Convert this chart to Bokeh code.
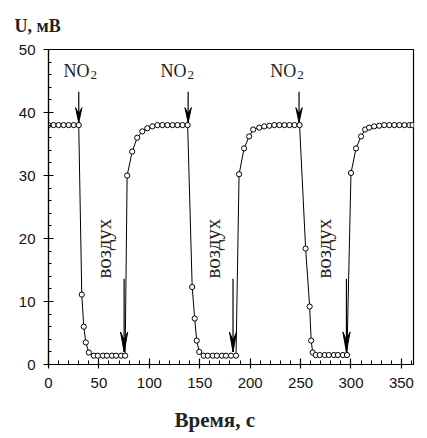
import math
from bokeh.plotting import figure
from bokeh.models import (Range1d, SingleIntervalTicker, FixedTicker, LinearAxis,
                          Title, ColumnDataSource)
from bokeh.core.properties import value
from bokeh.embed import file_html
from bokeh.resources import INLINE

# ---- data ----
cycle1_t = [0, 5, 10, 15, 20, 25, 30, 33, 35, 37, 40, 45, 49, 54, 58, 63, 67, 72, 76]
cycle1_u = [38, 38, 38, 38, 38, 38, 38, 11.1, 6.0, 3.5, 1.9, 1.4, 1.4, 1.4, 1.4, 1.4, 1.4, 1.4, 1.4]

cycle2_t = [78, 83, 88, 93, 98, 103, 108, 113, 118, 123, 128, 133, 138,
            142.5, 145, 147, 149.5, 154, 158, 163, 167, 172, 176, 181, 186]
cycle2_u = [30.0, 33.8, 36.0, 37.0, 37.5, 37.8, 38, 38, 38, 38, 38, 38, 38,
            12.3, 7.3, 3.8, 2.0, 1.4, 1.4, 1.4, 1.4, 1.4, 1.4, 1.4, 1.4]

cycle3_t = [189, 194, 199, 203, 209, 214, 219, 224, 229, 234, 239, 244, 249,
            255, 259, 260.5, 262, 265, 269, 274, 278, 283, 287, 292, 296]
cycle3_u = [30.2, 34.3, 36.2, 37.3, 37.6, 37.8, 37.9, 38, 38, 38, 38, 38, 38,
            18.4, 9.2, 3.8, 1.9, 1.5, 1.5, 1.5, 1.5, 1.5, 1.5, 1.5, 1.5]

cycle4_t = [300, 305, 310, 314, 318, 323, 328, 333, 338, 343, 348, 353, 358, 361]
cycle4_u = [30.4, 34.3, 36.2, 37.3, 37.6, 37.8, 37.9, 38, 38, 38, 38, 38, 38, 38]

# arrows: NO2 on (top), air on (bottom)
no2_t = [30, 138.5, 248.5]
no2_tip_u = 38.4
no2_tail_u = 43.3
air_t = [75, 183, 295.5]
air_tip_u = 2.0
air_tail_u = 13.6

# labels
no2_label_t = [15, 111, 220]
no2_label_u = 46.6
air_label_t = [55, 163, 273]
air_label_u = 18.4

x_ticks_interval = 50
y_ticks_interval = 10

time_s = cycle1_t + cycle2_t + cycle3_t + cycle4_t
voltage_mv = cycle1_u + cycle2_u + cycle3_u + cycle4_u

p = figure(width=427, height=438,
           x_range=Range1d(0, 362), y_range=Range1d(0, 50),
           output_backend="svg", toolbar_location=None,
           min_border_left=48, min_border_right=14,
           min_border_top=48, min_border_bottom=74)

p.background_fill_color = "white"
p.border_fill_color = "white"
p.grid.visible = False
p.outline_line_color = "black"
p.outline_line_width = 1.2
p.outline_line_alpha = 1

# title "U, мВ"
p.title.text = "U, мВ"
p.title.align = "left"
p.title.offset = -34
p.title.text_font = "Liberation Serif"
p.title.text_font_size = "18px"
p.title.text_font_style = "bold"
p.title.text_color = "#222222"
p.title.standoff = 27

# axes
p.xaxis.ticker = SingleIntervalTicker(interval=x_ticks_interval, num_minor_ticks=5)
p.yaxis.ticker = SingleIntervalTicker(interval=y_ticks_interval, num_minor_ticks=5)
for ax in (p.xaxis[0], p.yaxis[0]):
    ax.axis_line_color = "black"
    ax.axis_line_width = 1.2
    ax.major_tick_line_color = "black"
    ax.minor_tick_line_color = "black"
    ax.major_tick_line_width = 1.2
    ax.minor_tick_line_width = 1
    ax.major_label_text_font = "Liberation Sans"
    ax.major_label_text_font_size = "15px"
    ax.major_label_text_color = "#111111"
    ax.major_label_standoff = 8

p.xaxis.major_label_standoff = 9
p.xaxis.major_tick_in = 6
p.xaxis.major_tick_out = 4
p.xaxis.minor_tick_in = 4
p.xaxis.minor_tick_out = 0
p.yaxis.major_tick_in = 5
p.yaxis.major_tick_out = 5
p.yaxis.minor_tick_in = 3
p.yaxis.minor_tick_out = 0

# invisible spacer axis (one hidden tick, empty label) to push the axis title down
spacer = LinearAxis(ticker=FixedTicker(ticks=[0], minor_ticks=[]),
                    axis_line_color=None,
                    major_tick_line_color=None, minor_tick_line_color=None,
                    major_tick_in=0, major_tick_out=9, minor_tick_in=0, minor_tick_out=0,
                    major_label_standoff=0, major_label_overrides={0: ""})
p.add_layout(spacer, "below")

p.add_layout(Title(text="Время, с", align="left", offset=126,
                   text_font="Liberation Serif", text_font_size="21px",
                   text_font_style="bold", text_color="#222222", standoff=12),
             "below")

# curve
src = ColumnDataSource(dict(t=time_s, u=voltage_mv))
p.line("t", "u", source=src, line_color="black", line_width=1)
p.scatter("t", "u", source=src, size=5.2, marker="circle",
          fill_color="white", line_color="black", line_width=1)

# arrows (shaft + narrow barbed head)
px_per_x = 365 / 362.0
px_per_y = 316 / 50.0

def arrow_heads(ts, tip, length_px, half_px, notch_px):
    xs, ys = [], []
    for t in ts:
        hw = half_px / px_per_x
        L = length_px / px_per_y
        n = notch_px / px_per_y
        xs.append([t, t - hw, t, t + hw])
        ys.append([tip, tip + L, tip + n, tip + L])
    return xs, ys

p.segment(x0=no2_t, y0=[no2_tail_u] * len(no2_t), x1=no2_t, y1=[no2_tip_u] * len(no2_t),
          line_color="black", line_width=1.2)
hx, hy = arrow_heads(no2_t, no2_tip_u, 15, 3.2, 9)
p.patches(hx, hy, fill_color="black", line_color="black", line_width=1)

p.segment(x0=air_t, y0=[air_tail_u] * len(air_t), x1=air_t, y1=[air_tip_u] * len(air_t),
          line_color="black", line_width=1.2)
hx, hy = arrow_heads(air_t, air_tip_u, 20, 3.6, 12)
p.patches(hx, hy, fill_color="black", line_color="black", line_width=1)

# NO2 labels
p.text(x=no2_label_t, y=[no2_label_u] * 3, text=["NO"] * 3,
       text_font=value("Liberation Serif"), text_font_size="18px",
       text_color="#222222", text_align="left", text_baseline="alphabetic")
p.text(x=no2_label_t, y=[no2_label_u] * 3, text=["2"] * 3,
       x_offset=27, y_offset=4,
       text_font=value("Liberation Serif"), text_font_size="13px",
       text_color="#222222", text_align="left", text_baseline="alphabetic")

# air labels
p.text(x=air_label_t, y=[air_label_u] * 3, text=["воздух"] * 3, angle=math.pi / 2,
       text_font=value("Liberation Serif"), text_font_size="21px",
       text_color="#222222", text_align="center", text_baseline="middle")

open("out.html", "w").write(file_html(p, INLINE))
